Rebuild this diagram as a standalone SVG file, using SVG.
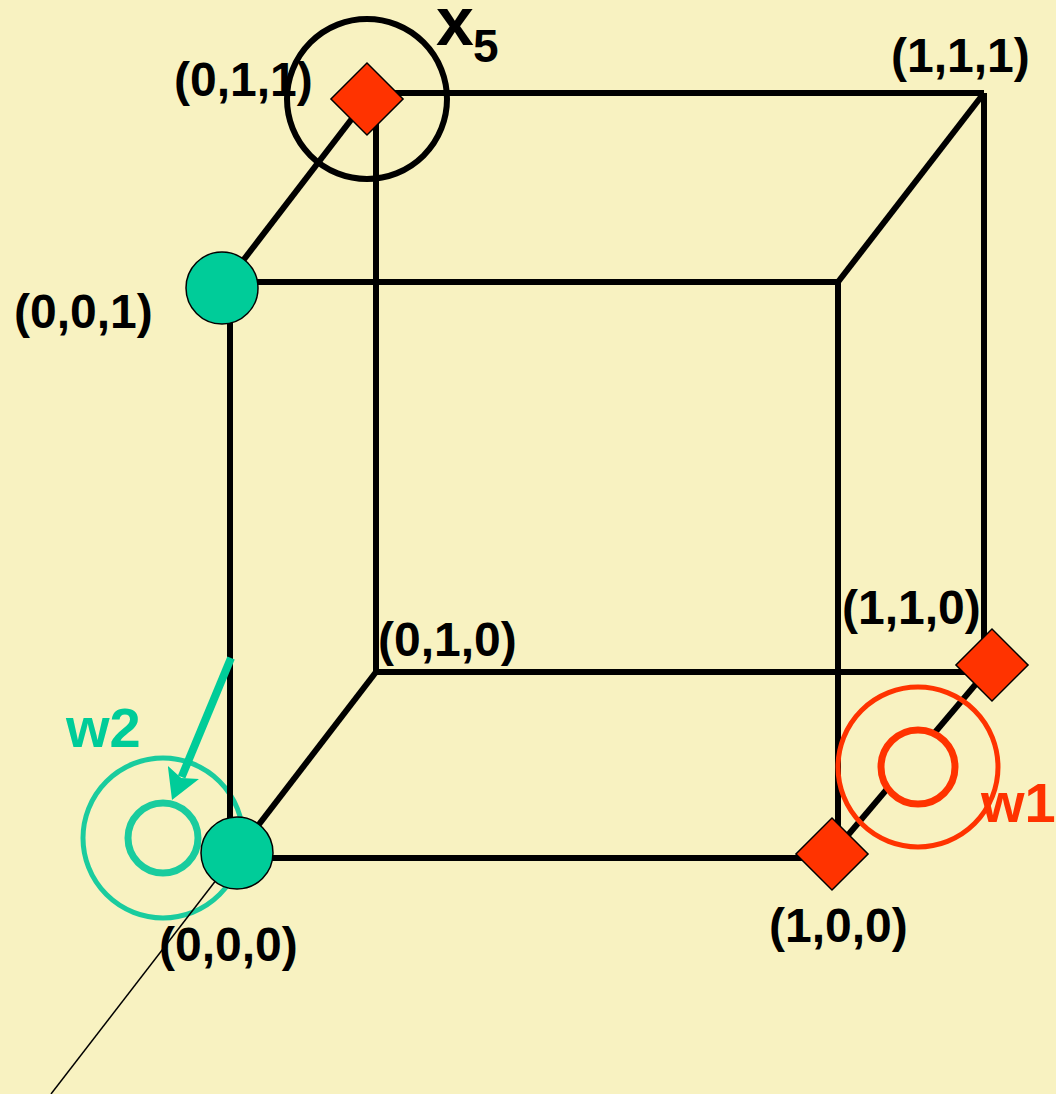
<svg xmlns="http://www.w3.org/2000/svg" width="1056" height="1094" viewBox="0 0 1056 1094">
<style>
.edge{stroke:#000;stroke-width:6;fill:none;stroke-linecap:butt}
.thin{stroke:#000;stroke-width:1.5;fill:none}
.lbl{font-family:"Liberation Sans",Arial,sans-serif;font-weight:bold;font-size:48px;fill:#000}
.big{font-family:"Liberation Sans",Arial,sans-serif;font-weight:bold;font-size:56px}
.dia{fill:#FF3300;stroke:#000;stroke-width:1.5}
.dot{fill:#00CC99;stroke:#000;stroke-width:1.5}
</style>
<defs>
<marker id="ah" viewBox="0 0 30 34" markerWidth="30" markerHeight="34" refX="5" refY="17" orient="auto" markerUnits="userSpaceOnUse">
<path d="M0,0 L30,17 L0,34 L6,17 z" fill="#00CC99"/>
</marker>
</defs>
<rect width="1056" height="1094" fill="#F8F2C1"/>
<g id="w2-rings">
<circle cx="163" cy="838" r="80" fill="none" stroke="#1ACC9E" stroke-width="5"/>
<circle cx="163" cy="838" r="35" fill="#F8F2C1" stroke="#1ACC9E" stroke-width="7"/>
</g>
<g id="connectors">
<line class="edge" x1="230" y1="282" x2="838" y2="282"/>
<line class="edge" x1="230" y1="282" x2="230" y2="858"/>
<line class="edge" x1="230" y1="858" x2="838" y2="858"/>
<line class="edge" x1="838" y1="282" x2="838" y2="858"/>
<line class="edge" x1="367" y1="93" x2="984" y2="93"/>
<line class="edge" x1="984" y1="93" x2="984" y2="672"/>
<line class="edge" x1="376" y1="672" x2="984" y2="672"/>
<line class="edge" x1="376" y1="99" x2="376" y2="672"/>
<line class="edge" x1="367" y1="99" x2="222" y2="288"/>
<line class="edge" x1="984" y1="93" x2="838" y2="282"/>
<line class="edge" x1="376" y1="672" x2="237" y2="853"/>
<line class="edge" x1="992" y1="665" x2="832" y2="854"/>
<line class="thin" x1="237" y1="853" x2="51" y2="1094"/>
</g>
<g id="w1-rings">
<circle cx="918" cy="767" r="80" fill="none" stroke="#FF3300" stroke-width="5"/>
<circle cx="918" cy="767" r="37" fill="#F8F2C1" stroke="#FF3300" stroke-width="7"/>
</g>
<g id="x5-circle">
<circle cx="367" cy="99" r="80" fill="none" stroke="#000" stroke-width="6"/>
</g>
<g id="n011"><rect class="dia" x="-25.5" y="-25.5" width="51" height="51" transform="translate(367,99) rotate(45)"/><text class="lbl" x="174" y="96">(0,1,1)</text></g>
<g id="n111"><text class="lbl" x="891" y="72">(1,1,1)</text></g>
<g id="n001"><circle class="dot" cx="222" cy="288" r="36"/><text class="lbl" x="14" y="328">(0,0,1)</text></g>
<g id="n010"><text class="lbl" x="378" y="656">(0,1,0)</text></g>
<g id="n110"><rect class="dia" x="-25.5" y="-25.5" width="51" height="51" transform="translate(992,665) rotate(45)"/><text class="lbl" x="842" y="624">(1,1,0)</text></g>
<g id="n100"><rect class="dia" x="-25.5" y="-25.5" width="51" height="51" transform="translate(832,854) rotate(45)"/><text class="lbl" x="769" y="942">(1,0,0)</text></g>
<g id="n000"><circle class="dot" cx="237" cy="853" r="36"/><text class="lbl" x="159" y="961">(0,0,0)</text></g>
<g id="x5"><text font-family="Liberation Sans,Arial,sans-serif" font-weight="bold" fill="#000"><tspan x="436" y="45" font-size="68">x</tspan><tspan x="473" y="62" font-size="46">5</tspan></text></g>
<g id="w2"><line x1="231" y1="658" x2="181.6" y2="777" stroke="#00CC99" stroke-width="8" marker-end="url(#ah)"/><text class="big" x="66" y="747" fill="#00CC99">w2</text></g>
<g id="w1"><text class="big" x="981" y="822" fill="#FF3300">w1</text></g>
</svg>
